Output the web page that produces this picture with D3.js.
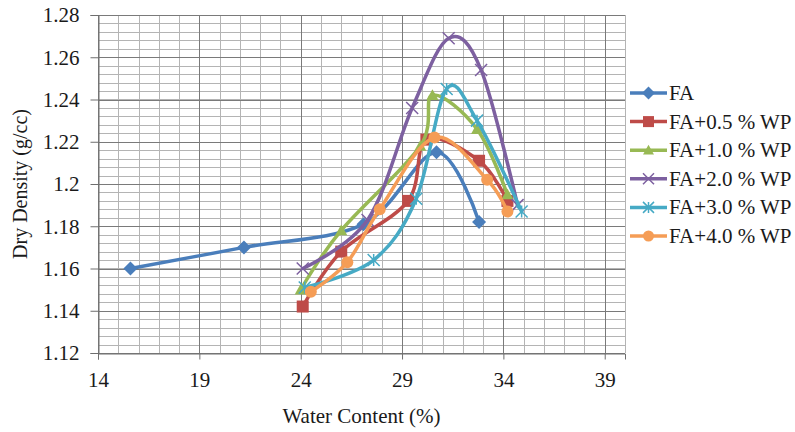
<!DOCTYPE html>
<html>
<head>
<meta charset="utf-8">
<script src="https://cdn.jsdelivr.net/npm/d3@7"></script>
</head>
<body style="margin:0">
<svg id="chart" width="795" height="432"></svg>
<script>
// Compaction curves: water content (%) vs dry density (g/cc)
const seriesNames = ["FA", "FA+0.5 % WP", "FA+1.0 % WP", "FA+2.0 % WP", "FA+3.0 % WP", "FA+4.0 % WP"];

const faWater = [15.6, 21.2, 27.1, 30.7, 32.8];
const faDensity = [1.160, 1.170, 1.181, 1.215, 1.182];

const wp05Water = [24.1, 26.0, 29.3, 30.2, 32.8, 34.2];
const wp05Density = [1.142, 1.168, 1.192, 1.221, 1.211, 1.192];

const wp10Water = [24.0, 26.0, 29.9, 30.5, 32.7, 34.2];
const wp10Density = [1.150, 1.178, 1.218, 1.242, 1.226, 1.195];

const wp20Water = [24.1, 27.3, 29.5, 31.3, 32.9, 34.7];
const wp20Density = [1.160, 1.183, 1.236, 1.269, 1.254, 1.190];

const wp30Water = [24.2, 27.6, 29.7, 31.2, 32.7, 34.9];
const wp30Density = [1.151, 1.164, 1.193, 1.245, 1.230, 1.187];

const wp40Water = [24.5, 26.3, 27.9, 30.6, 33.2, 34.2];
const wp40Density = [1.149, 1.163, 1.188, 1.222, 1.202, 1.187];

const xTicks = [14, 19, 24, 29, 34, 39];
const yTicks = [1.12, 1.14, 1.16, 1.18, 1.20, 1.22, 1.24, 1.26, 1.28];
const yTickLabels = ["1.12", "1.14", "1.16", "1.18", "1.2", "1.22", "1.24", "1.26", "1.28"];

const colors = ["#4a7ebb", "#be4b48", "#98b954", "#7d60a0", "#46aac5", "#f59d56"];
const markers = ["diamond", "square", "triangle", "x", "star", "circle"];

const waters = [faWater, wp05Water, wp10Water, wp20Water, wp30Water, wp40Water];
const densities = [faDensity, wp05Density, wp10Density, wp20Density, wp30Density, wp40Density];

const TEXT_COLOR = "#1a1a1a";

function styleText(sel, size) {
  return sel.attr("font-size", size).style("font-family", '"Liberation Serif"').attr("fill", TEXT_COLOR);
}

const series = seriesNames.map((name, i) => ({
  name,
  color: colors[i],
  marker: markers[i],
  points: waters[i].map((w, j) => ({ x: w, y: densities[i][j] }))
}));

const svg = d3.select("#chart");
const plot = { left: 98, right: 625, top: 15, bottom: 353 };

const x = d3.scaleLinear().domain([14, 40]).range([plot.left, plot.right]);
const y = d3.scaleLinear().domain([1.12, 1.28]).range([plot.bottom, plot.top]);

// Grid: minor lines every 1 % and 0.004 g/cc, major lines at the labelled ticks
const grid = svg.append("g");
const minorX = d3.range(14, 41);
const minorY = d3.range(0, 41).map(i => 1.12 + i * 0.004);

grid.selectAll("line.mx").data(minorX).join("line")
  .attr("x1", d => Math.round(x(d)) + 0.5).attr("x2", d => Math.round(x(d)) + 0.5)
  .attr("y1", plot.top).attr("y2", plot.bottom)
  .attr("stroke", "#b4b4b4").attr("stroke-width", 1);
grid.selectAll("line.my").data(minorY).join("line")
  .attr("y1", d => Math.round(y(d)) + 0.5).attr("y2", d => Math.round(y(d)) + 0.5)
  .attr("x1", plot.left).attr("x2", plot.right)
  .attr("stroke", "#b4b4b4").attr("stroke-width", 1);
grid.selectAll("line.Mx").data(xTicks).join("line")
  .attr("x1", d => Math.round(x(d)) + 0.5).attr("x2", d => Math.round(x(d)) + 0.5)
  .attr("y1", plot.top).attr("y2", plot.bottom)
  .attr("stroke", "#7a7a7a").attr("stroke-width", 1);
grid.selectAll("line.My").data(yTicks).join("line")
  .attr("y1", d => Math.round(y(d)) + 0.5).attr("y2", d => Math.round(y(d)) + 0.5)
  .attr("x1", plot.left).attr("x2", plot.right)
  .attr("stroke", "#7a7a7a").attr("stroke-width", 1);

// Axes
const xAxis = d3.axisBottom(x).tickValues(xTicks).tickSize(6).tickPadding(13).tickFormat(d3.format("d"));
const yAxis = d3.axisLeft(y).tickValues(yTicks).tickSize(8).tickPadding(11)
  .tickFormat((d, i) => yTickLabels[i]);

const gx = svg.append("g").attr("transform", `translate(0,${Math.round(y(1.12)) + 0.5})`).call(xAxis);
const gy = svg.append("g").attr("transform", `translate(${Math.round(x(14)) + 0.5},0)`).call(yAxis);
[gx, gy].forEach(g => {
  g.attr("font-family", null).attr("font-size", null);
  g.select(".domain").attr("stroke", "#6e6e6e");
  g.selectAll(".tick line").attr("stroke", "#6e6e6e");
  styleText(g.selectAll(".tick text"), 21);
});
gy.selectAll(".tick text").attr("dy", "0.33em");

// Axis titles
styleText(svg.append("text")
  .attr("x", (plot.left + plot.right) / 2).attr("y", 423)
  .attr("text-anchor", "middle"), 21)
  .text("Water Content (%)");
styleText(svg.append("text")
  .attr("transform", `translate(27,${(plot.top + plot.bottom) / 2}) rotate(-90)`)
  .attr("text-anchor", "middle"), 20)
  .text("Dry Density (g/cc)");

// Marker shapes
function drawMarker(g, type, color, cx, cy, s) {
  const h = s / 2;
  if (type === "diamond") {
    g.append("path").attr("d", `M${cx},${cy - h - 1}L${cx + h + 1},${cy}L${cx},${cy + h + 1}L${cx - h - 1},${cy}Z`)
      .attr("fill", color);
  } else if (type === "square") {
    g.append("rect").attr("x", cx - h).attr("y", cy - h).attr("width", s).attr("height", s).attr("fill", color);
  } else if (type === "triangle") {
    g.append("path").attr("d", `M${cx},${cy - h}L${cx + h},${cy + h * 0.8}L${cx - h},${cy + h * 0.8}Z`)
      .attr("fill", color);
  } else if (type === "circle") {
    g.append("circle").attr("cx", cx).attr("cy", cy).attr("r", h).attr("fill", color);
  } else if (type === "x") {
    g.append("path").attr("d", `M${cx - h},${cy - h}L${cx + h},${cy + h}M${cx - h},${cy + h}L${cx + h},${cy - h}`)
      .attr("stroke", color).attr("stroke-width", 1.5).attr("fill", "none");
  } else if (type === "star") {
    g.append("path").attr("d", `M${cx - h},${cy - h}L${cx + h},${cy + h}M${cx - h},${cy + h}L${cx + h},${cy - h}M${cx},${cy - h}L${cx},${cy + h}`)
      .attr("stroke", color).attr("stroke-width", 1.5).attr("fill", "none");
  }
}

// Smoothed series lines with markers
const line = d3.line().x(d => x(d.x)).y(d => y(d.y)).curve(d3.curveCatmullRom.alpha(0));
const seriesG = svg.append("g");
series.forEach(s => {
  const g = seriesG.append("g");
  g.append("path").datum(s.points).attr("d", line)
    .attr("fill", "none").attr("stroke", s.color).attr("stroke-width", 3.5)
    .attr("stroke-linejoin", "round").attr("stroke-linecap", "round");
  s.points.forEach(p => drawMarker(g, s.marker, s.color, x(p.x), y(p.y), 12));
});

// Legend
const legend = svg.append("g");
series.forEach((s, i) => {
  const ly = 93 + i * 28.6;
  legend.append("line").attr("x1", 630).attr("x2", 667).attr("y1", ly).attr("y2", ly)
    .attr("stroke", s.color).attr("stroke-width", 3.5);
  drawMarker(legend, s.marker, s.color, 648.5, ly, 11);
  styleText(legend.append("text").attr("x", 669).attr("y", ly + 7), 21)
    .text(s.name);
});
</script>
</body>
</html>
